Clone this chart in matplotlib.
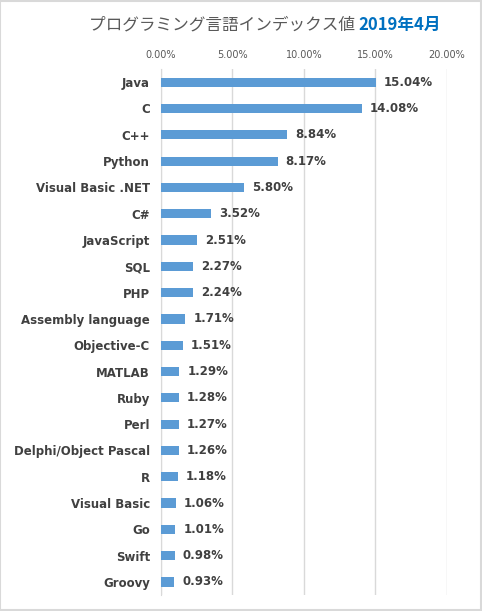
import matplotlib
matplotlib.use("Agg")
import matplotlib.pyplot as plt
from matplotlib.patches import Rectangle
from matplotlib.ticker import FuncFormatter

languages = ["Java", "C", "C++", "Python", "Visual Basic .NET", "C#", "JavaScript", "SQL",
             "PHP", "Assembly language", "Objective-C", "MATLAB", "Ruby", "Perl",
             "Delphi/Object Pascal", "R", "Visual Basic", "Go", "Swift", "Groovy"]
values = [15.04, 14.08, 8.84, 8.17, 5.80, 3.52, 2.51, 2.27, 2.24, 1.71, 1.51, 1.29,
          1.28, 1.27, 1.26, 1.18, 1.06, 1.01, 0.98, 0.93]
ticks = [0, 5, 10, 15, 20]

plt.rcParams['font.family'] = ['DejaVu Sans', 'Noto Sans CJK JP']

fig = plt.figure(figsize=(4.82, 6.11), dpi=100)
fig.patches.append(Rectangle((0.001, 0.001), 0.996, 0.997, transform=fig.transFigure,
                             fill=False, edgecolor="#D9D9D9", linewidth=1.5))
ax = fig.add_axes([0.334, 0.026, 0.593, 0.861])

y = list(range(len(languages)))
ax.barh(y, values, height=0.35, color="#5B9BD5", zorder=3)
ax.set_ylim(len(languages) - 0.5, -0.5)
ax.set_xlim(0, 20)
ax.set_xticks(ticks)
ax.xaxis.set_major_formatter(FuncFormatter(lambda v, p: f"{v:.2f}%"))
ax.xaxis.tick_top()
ax.tick_params(axis="x", length=0, labelsize=7, labelcolor="#595959", pad=6.5)
ax.set_yticks(y)
ax.set_yticklabels(languages, fontsize=8.5, fontweight="bold", color="#404040")
ax.tick_params(axis="y", length=0, pad=8)
ax.grid(axis="x", color="#D9D9D9", linewidth=1, zorder=0)
for s in ["top", "right", "bottom"]:
    ax.spines[s].set_visible(False)
ax.spines["left"].set_color("#D9D9D9")
for yi, v in zip(y, values):
    ax.text(v + 0.55, yi, f"{v:.2f}%", va="center", ha="left", fontsize=8.5,
            fontweight="bold", color="#404040")

fig.canvas.draw()
r = fig.canvas.get_renderer()
t1 = fig.text(0, 0, "プログラミング言語インデックス値 ", fontsize=12, color="#595959",
              family=["Noto Sans CJK JP", "DejaVu Sans"])
t2 = fig.text(0, 0, "2019年4月", fontsize=12, color="#0070C0", fontweight="bold",
              family=["Noto Sans CJK JP", "DejaVu Sans"])
w1 = t1.get_window_extent(r).width
w2 = t2.get_window_extent(r).width
W = fig.bbox.width
x0 = 265 - (w1 + w2) / 2
yy = 1 - 25 / 611
t1.set_position((x0 / W, yy)); t1.set_va("center")
t2.set_position(((x0 + w1) / W, yy)); t2.set_va("center")

fig.savefig("out.png", dpi=100)
